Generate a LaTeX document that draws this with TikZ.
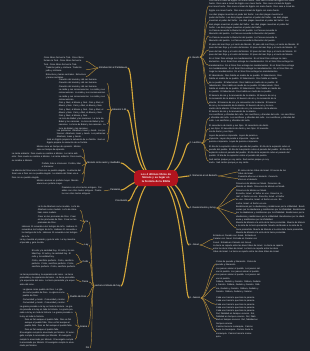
\documentclass[tikz,border=0pt]{standalone}
\usepackage{fontspec}
\setmainfont{Liberation Sans}
\definecolor{bgdark}{RGB}{30,35,43}
\definecolor{goldline}{RGB}{214,168,58}
\definecolor{twigline}{RGB}{176,138,58}
\definecolor{rootred}{RGB}{178,20,30}
\definecolor{leaftext}{RGB}{226,228,232}
\newcommand\tinytxt{\fontsize{2.2pt}{3.1pt}\selectfont}
\newcommand\labtxt{\fontsize{2.4pt}{3pt}\selectfont}
\newcommand\rootxt{\fontsize{2.7pt}{3.4pt}\selectfont\bfseries}
% a short item written out several times
\newcommand\txtrep[2]{\foreach\n in {1,...,#1}{#2 }}
\tikzset{
  leafR/.style={anchor=north west, align=left, text width=#1, inner sep=0pt, font=\tinytxt, text=leaftext},
  leafL/.style={anchor=north east, align=left, text width=#1, inner sep=0pt, font=\tinytxt, text=leaftext},
  topicR/.style={anchor=west, inner sep=0.5pt, font=\labtxt, text=white},
  topicL/.style={anchor=east, inner sep=0.5pt, font=\labtxt, text=white},
  branch/.style={draw=goldline, line width=1.1pt, line cap=round},
  twig/.style={draw=twigline, line width=0.45pt},
}
\begin{document}
\begin{tikzpicture}[x=1pt,y=-1pt]
  \fill[bgdark] (0,0) rectangle (310,351);
  \useasboundingbox (0,0) rectangle (310,351);
  \coordinate (hub) at (156,178);

  % right topics
  \node[topicR] (r1) at (189,57) {1. Éxodo};
  \node[topicR] (r2) at (189,143) {2. Levítico};
  \node[topicR] (r3) at (189,176) {3. Números en el desierto};
  \node[topicR] (r4) at (189,208) {4. Deuteronomio y la ley};
  \node[topicR] (r5) at (189,245) {5. Josué};
  \node[topicR] (r6) at (189,298) {6. Jueces};

  % right leaves
  \node[leafR=88pt] (r1a) at (209,0) {\txtrep{7}{Dios saca a Israel de Egipto con mano fuerte.}};
  \node[leafR=80pt] (r1b) at (209,14) {\txtrep{8}{Las diez plagas muestran el poder del Señor.}};
  \node[leafR=70pt] (r1c) at (209,30) {\txtrep{6}{La Pascua recuerda la liberación del pueblo.}};
  \node[leafR=92pt] (r1d) at (209,44) {\txtrep{8}{El paso del mar Rojo y el canto de Moisés.}};
  \node[leafR=85pt] (r1e) at (209,58) {\txtrep{9}{En el Sinaí Dios entrega los mandamientos.}};
  \node[leafR=75pt] (r1f) at (209,75) {\txtrep{8}{El tabernáculo: Dios habita en medio de su pueblo.}};
  \node[leafR=70pt] (r1g) at (209,95) {\txtrep{8}{El becerro de oro y la renovación de la alianza.}};

  \node[leafR=88pt] (r2a) at (209,114) {\txtrep{6}{Los sacrificios y ofrendas del culto.}};
  \node[leafR=60pt] (r2b) at (209,124.5) {\txtrep{4}{El sacerdocio de Aarón y sus hijos.}};
  \node[leafR=50pt] (r2c) at (209,135) {\txtrep{5}{Leyes de pureza e impureza.}};
  \node[leafR=85pt] (r2d) at (209,145.5) {\txtrep{6}{El día de la expiación cubre el pecado del pueblo.}};
  \node[leafR=60pt] (r2e) at (209,158.5) {\txtrep{3}{Sed santos porque yo soy santo.}};

  \node[leafR=52pt] (r3a) at (238,169.5) {\txtrep{2}{El censo de las tribus de Israel.}};
  \node[leafR=45pt] (r3b) at (238,176) {\txtrep{2}{Cuarenta años en el desierto.}};

  \node[leafR=50pt] (r4a) at (236,183) {\txtrep{4}{Discursos de Moisés en Moab.}};
  \node[leafR=50pt] (r4b) at (236,193) {\txtrep{5}{Escucha, Israel: el Señor es uno.}};
  \node[leafR=70pt] (r4c) at (236,206) {\txtrep{5}{Bendiciones por la obediencia y maldiciones por la infidelidad.}};
  \node[leafR=70pt] (r4d) at (236,222) {\txtrep{5}{Muerte de Moisés a la vista de la tierra prometida.}};

  \node[leafR=45pt] (r5a) at (213,235) {\txtrep{4}{Entrada en Canaán con Josué.}};
  \node[leafR=70pt] (r5b) at (213,245) {\txtrep{4}{La tierra se reparte entre las doce tribus de Israel.}};

  \node[leafR=42pt] (r6a) at (216,261) {\txtrep{2}{Ciclos de pecado y liberación.}};
  \node[leafR=45pt] (r6b) at (216,268) {\txtrep{5}{Los jueces salvan al pueblo.}};
  \node[leafR=45pt] (r6c) at (216,281) {\txtrep{6}{Débora, Gedeón y Sansón.}};
  \node[leafR=45pt] (r6d) at (216,297) {\txtrep{5}{Cada uno hacía lo que bien le parecía.}};
  \node[leafR=42pt] (r6e) at (216,313) {\txtrep{4}{Rut, fidelidad en tiempos oscuros.}};
  \node[leafR=40pt] (r6f) at (216,326) {\txtrep{4}{Camino hacia la monarquía.}};

  % left topics
  \node[topicL] (l1) at (128,68) {Introducción al Pentateuco};
  \node[topicL] (l2) at (127,110) {Génesis 1-11};
  \node[topicL] (l3) at (121,163) {Moisés como autor y mediador};
  \node[topicL] (l4) at (121,190) {Paralelos};
  \node[topicL] (l5) at (128,201) {Conclusión};
  \node[topicL] (l6) at (121,286) {Lectura cristiana de hoy};

  % left leaves
  \node[leafL=42pt] (l1a) at (86,57) {\txtrep{4}{Cinco libros forman la Torá.}};
  \node[leafL=40pt] (l1b) at (86,67) {\txtrep{2}{Tradición judía y cristiana.}};
  \node[leafL=40pt] (l1c) at (86,74) {\txtrep{2}{Estructura y temas centrales.}};

  \node[leafL=48pt] (l2a) at (107,79) {\txtrep{3}{Creación del mundo y del ser humano.}};
  \node[leafL=48pt] (l2b) at (107,89) {\txtrep{5}{La caída y sus consecuencias.}};
  \node[leafL=48pt] (l2c) at (107,102) {\txtrep{7}{Caín y Abel, el diluvio y Noé.}};
  \node[leafL=48pt] (l2d) at (107,118) {\txtrep{5}{La torre de Babel y las naciones.}};
  \node[leafL=50pt] (l2e) at (107,130) {\txtrep{3}{Los patriarcas: Abraham, Isaac y Jacob.}};
  \node[leafL=60pt] (l2f) at (107,139) {\txtrep{2}{José en Egipto prepara la salvación de su familia.}};

  \node[leafL=45pt] (l3a) at (82,146) {\txtrep{2}{Moisés nace en tiempo de opresión.}};
  \node[leafL=70pt] (l3b) at (82,153) {\txtrep{3}{La zarza ardiente: Dios revela su nombre a Moisés.}};
  \node[leafL=40pt] (l3c) at (82,163) {\txtrep{2}{Profeta, líder e intercesor.}};
  \node[leafL=70pt] (l3d) at (82,170) {\txtrep{3}{La alianza del Sinaí une a Dios con su pueblo elegido.}};
  \node[leafL=45pt] (l3e) at (82,180) {\txtrep{2}{Moisés anuncia un profeta mayor.}};

  \node[leafL=42pt] (l4a) at (104,186.5) {\txtrep{3}{Paralelos con otros textos antiguos.}};

  % sub topics of the last branch
  \node[topicL] (s1) at (89,222) {Fe};
  \node[topicL] (s2) at (89,245) {Ley};
  \node[topicL] (s3) at (89,262) {Culto};
  \node[topicL] (s4) at (89,282) {Tierra};
  \node[topicL] (s5) at (87,297) {Pueblo de Dios};
  \node[topicL] (s6) at (88,327) {Gracia};
  \node[topicL] (s7) at (90,348) {Fin};

  \node[leafL=42pt] (s1a) at (80,206) {\txtrep{3}{La fe de Abraham como modelo.}};
  \node[leafL=42pt] (s1b) at (80,216) {\txtrep{3}{Creer en las promesas de Dios.}};
  \node[leafL=58pt] (s1c) at (80,226) {\txtrep{4}{Hebreos 11 recuerda a los testigos de la fe.}};
  \node[leafL=56pt] (s2a) at (76,239) {\txtrep{2}{La ley muestra el pecado y guía la vida.}};
  \node[leafL=44pt] (s3a) at (76,250) {\txtrep{4}{El culto y la santidad hoy.}};
  \node[leafL=44pt] (s3b) at (76,260) {\txtrep{5}{Cristo, sacrificio perfecto.}};
  \node[leafL=56pt] (s4a) at (76,274) {\txtrep{4}{La tierra prometida y la esperanza del reino.}};
  \node[leafL=44pt] (s5a) at (67,289) {\txtrep{3}{La iglesia como pueblo de Dios.}};
  \node[leafL=44pt] (s5b) at (67,299) {\txtrep{4}{Comunidad y misión.}};
  \node[leafL=55pt] (s6a) at (75,306) {\txtrep{4}{La gracia precede a la ley en toda la historia.}};
  \node[leafL=50pt] (s6b) at (75,319) {\txtrep{5}{Dios es fiel aunque el pueblo falle.}};
  \node[leafL=55pt] (s6c) at (75,332) {\txtrep{5}{El evangelio cumple lo anunciado por Moisés.}};

  % main branches
  \foreach \t in {r1,r2,r3,r4,r5,r6}
    \draw[branch] (hub) .. controls +(28,0) and +(-5,0) .. (\t.west);
  \foreach \t in {l1,l2,l3,l4,l5,l6}
    \draw[branch] (hub) .. controls +(-24,0) and +(6,0) .. (\t.east);

  % brackets
  \foreach \c in {r1a,r1b,r1c,r1d,r1e,r1f,r1g}
    \draw[twig] (r1.east) .. controls +(5,0) and +(-5,0) .. (\c.west);
  \foreach \c in {r2a,r2b,r2c,r2d,r2e}
    \draw[twig] (r2.east) .. controls +(5,0) and +(-5,0) .. (\c.west);
  \foreach \c in {r3a,r3b}
    \draw[twig] (r3.east) .. controls +(4,0) and +(-4,0) .. (\c.west);
  \foreach \c in {r4a,r4b,r4c,r4d}
    \draw[twig] (r4.east) .. controls +(4,0) and +(-4,0) .. (\c.west);
  \foreach \c in {r5a,r5b}
    \draw[twig] (r5.east) .. controls +(4,0) and +(-4,0) .. (\c.west);
  \foreach \c in {r6a,r6b,r6c,r6d,r6e,r6f}
    \draw[twig] (r6.east) .. controls +(5,0) and +(-5,0) .. (\c.west);
  \foreach \c in {l1a,l1b,l1c}
    \draw[twig] (l1.west) .. controls +(-3,0) and +(3,0) .. (\c.east);
  \foreach \c in {l2a,l2b,l2c,l2d,l2e,l2f}
    \draw[twig] (l2.west) .. controls +(-3,0) and +(3,0) .. (\c.east);
  \foreach \c in {l3a,l3b,l3c,l3d,l3e}
    \draw[twig] (l3.west) .. controls +(-3,0) and +(3,0) .. (\c.east);
  \draw[twig] (l4.west) .. controls +(-2,0) and +(2,0) .. (l4a.east);
  \foreach \c in {s1,s2,s3,s4,s5,s6,s7}
    \draw[twig] (l6.west) .. controls +(-3,0) and +(3,0) .. (\c.east);
  \foreach \c in {s1a,s1b,s1c}
    \draw[twig] (s1.west) .. controls +(-3,0) and +(3,0) .. (\c.east);
  \draw[twig] (s2.west) .. controls +(-3,0) and +(3,0) .. (s2a.east);
  \foreach \c in {s3a,s3b}
    \draw[twig] (s3.west) .. controls +(-3,0) and +(3,0) .. (\c.east);
  \draw[twig] (s4.west) .. controls +(-3,0) and +(3,0) .. (s4a.east);
  \foreach \c in {s5a,s5b}
    \draw[twig] (s5.west) .. controls +(-2,0) and +(2,0) .. (\c.east);
  \foreach \c in {s6a,s6b,s6c}
    \draw[twig] (s6.west) .. controls +(-3,0) and +(3,0) .. (\c.east);

  \node[fill=rootred, rounded corners=5pt, text=white, font=\rootxt, align=center,
        text width=40pt, minimum height=16pt, inner sep=2pt] (root) at (hub)
        {Los 4 últimos libros de Moisés y su lugar en la historia de la Biblia};
\end{tikzpicture}
\end{document}
